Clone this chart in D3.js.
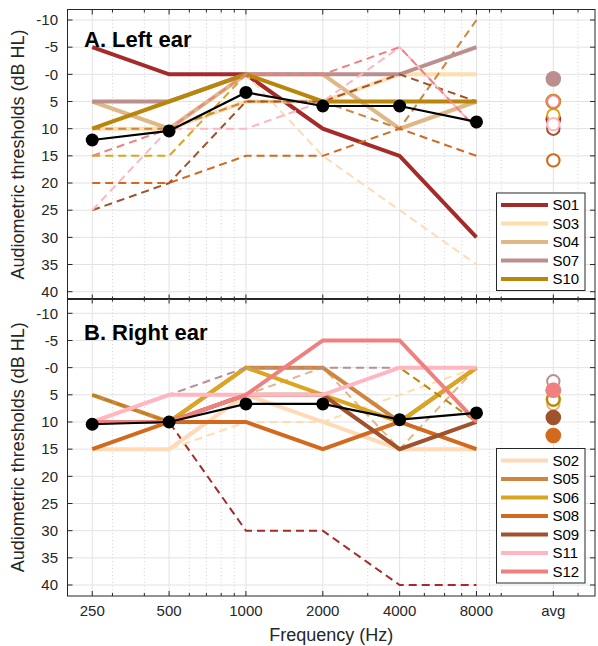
<!DOCTYPE html>
<html><head><meta charset="utf-8">
<script src="https://cdn.jsdelivr.net/npm/d3@7"></script>
<style>body{margin:0;background:#fff}svg{display:block}</style>
</head><body><svg id="c" width="598" height="646"></svg>
<script>
// ---------- data ----------
const freqs = [250, 500, 1000, 2000, 4000, 8000];
const xTickValues = [250, 500, 1000, 2000, 4000, 8000, 16000];
const xTickLabels = ["250", "500", "1000", "2000", "4000", "8000", "avg"];
const xMinorTicks = [300, 400, 600, 700, 800, 900, 3000, 5000, 6000, 7000, 9000, 10000, 20000];
const yTickValues = [-10, -5, 0, 5, 10, 15, 20, 25, 30, 35, 40];
const yTickLabels = ["-10", "-5", "-0", "5", "10", "15", "20", "25", "30", "35", "40"];

const leftEarSubjects = ["S01", "S03", "S04", "S07", "S10"];
const rightEarSubjects = ["S02", "S05", "S06", "S08", "S09", "S11", "S12"];
const allSubjects = ["S01","S02","S03","S04","S05","S06","S07","S08","S09","S10","S11","S12"];
const subjectColors = ["#a52a2a", "#ffdab9", "#ffdead", "#deb887", "#cd853f", "#daa520",
                       "#bc8f8f", "#d2691e", "#a0522d", "#b8860b", "#ffb6c1", "#f08080"];

// Left-ear thresholds (dB HL) at 250..8000 Hz
const leftS01 = [-5, 0, 0, 10, 15, 30];
const leftS02 = [10, 10, 0, 15, 25, 35];
const leftS03 = [10, 10, 5, 5, 0, 0];
const leftS04 = [5, 10, 0, 0, 10, 5];
const leftS05 = [10, 10, 5, 5, 10, -10];
const leftS06 = [15, 15, 0, 5, 5, 5];
const leftS07 = [5, 5, 0, 0, 0, -5];
const leftS08 = [20, 20, 15, 15, 10, 15];
const leftS09 = [25, 20, 5, 5, 0, 5];
const leftS10 = [10, 5, 0, 5, 5, 5];
const leftS11 = [25, 10, 10, 5, -5, 10];
const leftS12 = [15, 10, 0, 0, -5, 10];
// Right-ear thresholds
const rightS01 = [10, 10, 30, 30, 40, 40];
const rightS02 = [15, 15, 5, 10, 15, 15];
const rightS03 = [15, 15, 10, 10, 5, 0];
const rightS04 = [10, 10, 5, 0, 15, 0];
const rightS05 = [5, 10, 0, 0, 10, 0];
const rightS06 = [10, 10, 0, 5, 10, 0];
const rightS07 = [10, 5, 0, 0, 0, 0];
const rightS08 = [15, 10, 10, 15, 10, 15];
const rightS09 = [10, 10, 5, 5, 15, 10];
const rightS10 = [5, 10, 5, 5, 0, 10];
const rightS11 = [10, 5, 5, 5, 0, 0];
const rightS12 = [10, 10, 5, -5, -5, 10];
// group means per frequency
const meanLeft = [12.08, 10.42, 3.33, 5.83, 5.83, 8.75];
const meanRight = [10.42, 10.0, 6.67, 6.67, 9.58, 8.33];

// ---------- build tables ----------
const leftTable = {S01:leftS01,S02:leftS02,S03:leftS03,S04:leftS04,S05:leftS05,S06:leftS06,
  S07:leftS07,S08:leftS08,S09:leftS09,S10:leftS10,S11:leftS11,S12:leftS12};
const rightTable = {S01:rightS01,S02:rightS02,S03:rightS03,S04:rightS04,S05:rightS05,S06:rightS06,
  S07:rightS07,S08:rightS08,S09:rightS09,S10:rightS10,S11:rightS11,S12:rightS12};
const color = d3.scaleOrdinal().domain(allSubjects).range(subjectColors);

// ---------- layout ----------
const svg = d3.select("#c");
const FONT = "Liberation Sans, Arial, Helvetica, sans-serif";
const INK = "#262626";
const xLeft = 67.5, xRight = 595;
const x = d3.scaleLog().domain([200, 23300]).range([xLeft, xRight]);

const panels = [
  {title: "A. Left ear", table: leftTable, own: leftEarSubjects, mean: meanLeft,
   top: 9.5, bottom: 299.5, y10: 20, y40: 291.7, titleY: 46.5, legendTop: 193},
  {title: "B. Right ear", table: rightTable, own: rightEarSubjects, mean: meanRight,
   top: 298.5, bottom: 596, y10: 313.3, y40: 585, titleY: 339.5, legendTop: 448.5}
];

panels.forEach(p => {
  const y = d3.scaleLinear().domain([-10, 40]).range([p.y10, p.y40]);
  const g = svg.append("g");
  // grid
  g.selectAll(".hg").data(yTickValues).join("line")
    .attr("x1", xLeft).attr("x2", xRight).attr("y1", d => y(d)).attr("y2", d => y(d))
    .attr("stroke", "#e3e3e3").attr("stroke-width", 1);
  g.selectAll(".vg").data(xTickValues).join("line")
    .attr("x1", d => x(d)).attr("x2", d => x(d)).attr("y1", p.top).attr("y2", p.bottom)
    .attr("stroke", "#e3e3e3").attr("stroke-width", 1);
  g.selectAll(".mg").data(xMinorTicks).join("line")
    .attr("x1", d => x(d)).attr("x2", d => x(d)).attr("y1", p.top).attr("y2", p.bottom)
    .attr("stroke", "#c8c8c8").attr("stroke-width", 0.8).attr("stroke-dasharray", "1,2.5");

  const line = d3.line().x((d, i) => x(freqs[i])).y(d => y(d));
  // one line + one average marker per subject, in subject order
  allSubjects.forEach(s => {
    const own = p.own.includes(s);
    const vals = p.table[s];
    const path = g.append("path").attr("d", line(vals)).attr("fill", "none")
      .attr("stroke", color(s));
    if (own) path.attr("stroke-width", 4);
    else path.attr("stroke-width", 2).attr("stroke-dasharray", "8,5");
    const c = g.append("circle").attr("cx", x(16000)).attr("cy", y(d3.mean(vals)));
    if (own) c.attr("r", 7.8).attr("fill", color(s));
    else c.attr("r", 6.2).attr("fill", "#fff").attr("stroke", color(s)).attr("stroke-width", 2);
  });
  // mean
  g.append("path").attr("d", line(p.mean)).attr("fill", "none")
    .attr("stroke", "#000").attr("stroke-width", 2.2);
  g.selectAll(".md").data(p.mean).join("circle")
    .attr("cx", (d, i) => x(freqs[i])).attr("cy", d => y(d)).attr("r", 6.5).attr("fill", "#000");

  // frame
  g.append("rect").attr("x", xLeft).attr("y", p.top).attr("width", xRight - xLeft)
    .attr("height", p.bottom - p.top).attr("fill", "none").attr("stroke", INK).attr("stroke-width", 1);
  // ticks
  const tk = (vals, len) => vals.forEach(v => {
    g.append("line").attr("x1", x(v)).attr("x2", x(v)).attr("y1", p.top).attr("y2", p.top + len).attr("stroke", INK);
    g.append("line").attr("x1", x(v)).attr("x2", x(v)).attr("y1", p.bottom).attr("y2", p.bottom - len).attr("stroke", INK);
  });
  tk(xTickValues, 5); tk(xMinorTicks, 3);
  yTickValues.forEach(v => {
    g.append("line").attr("x1", xLeft).attr("x2", xLeft + 5).attr("y1", y(v)).attr("y2", y(v)).attr("stroke", INK);
    g.append("line").attr("x1", xRight).attr("x2", xRight - 5).attr("y1", y(v)).attr("y2", y(v)).attr("stroke", INK);
  });
  g.selectAll(".yl").data(yTickValues).join("text")
    .attr("x", 58).attr("y", d => y(d)).attr("dy", "0.35em").attr("text-anchor", "end")
    .attr("font-family", FONT).attr("font-size", 15).attr("fill", INK)
    .text((d, i) => yTickLabels[i]);
  // title
  g.append("text").attr("x", 84).attr("y", p.titleY).attr("font-family", FONT)
    .attr("font-size", 22).attr("font-weight", "bold").attr("fill", "#000").text(p.title);
  // y title
  g.append("text").attr("transform", `translate(24,${(p.top + p.bottom) / 2}) rotate(-90)`)
    .attr("text-anchor", "middle").attr("font-family", FONT).attr("font-size", 18).attr("fill", INK)
    .text("Audiometric thresholds (dB HL)");

  // legend
  const n = p.own.length, rowH = 18.5;
  const lg = g.append("g");
  lg.append("rect").attr("x", 496.5).attr("y", p.legendTop).attr("width", 88.5)
    .attr("height", n * rowH + 5).attr("fill", "#fff").attr("stroke", INK);
  p.own.forEach((s, i) => {
    const cy = p.legendTop + 12 + i * rowH;
    lg.append("line").attr("x1", 501).attr("x2", 548).attr("y1", cy).attr("y2", cy)
      .attr("stroke", color(s)).attr("stroke-width", 4);
    lg.append("text").attr("x", 552.5).attr("y", cy).attr("dy", "0.36em").attr("font-family", FONT)
      .attr("font-size", 15).attr("fill", "#000").text(s);
  });
});

// x axis labels
svg.selectAll(".xl").data(xTickValues).join("text")
  .attr("x", d => x(d)).attr("y", 616).attr("text-anchor", "middle")
  .attr("font-family", FONT).attr("font-size", 15).attr("fill", INK)
  .text((d, i) => xTickLabels[i]);
svg.append("text").attr("x", (xLeft + xRight) / 2).attr("y", 641).attr("text-anchor", "middle")
  .attr("font-family", FONT).attr("font-size", 18).attr("fill", INK).text("Frequency (Hz)");
</script></body></html>
